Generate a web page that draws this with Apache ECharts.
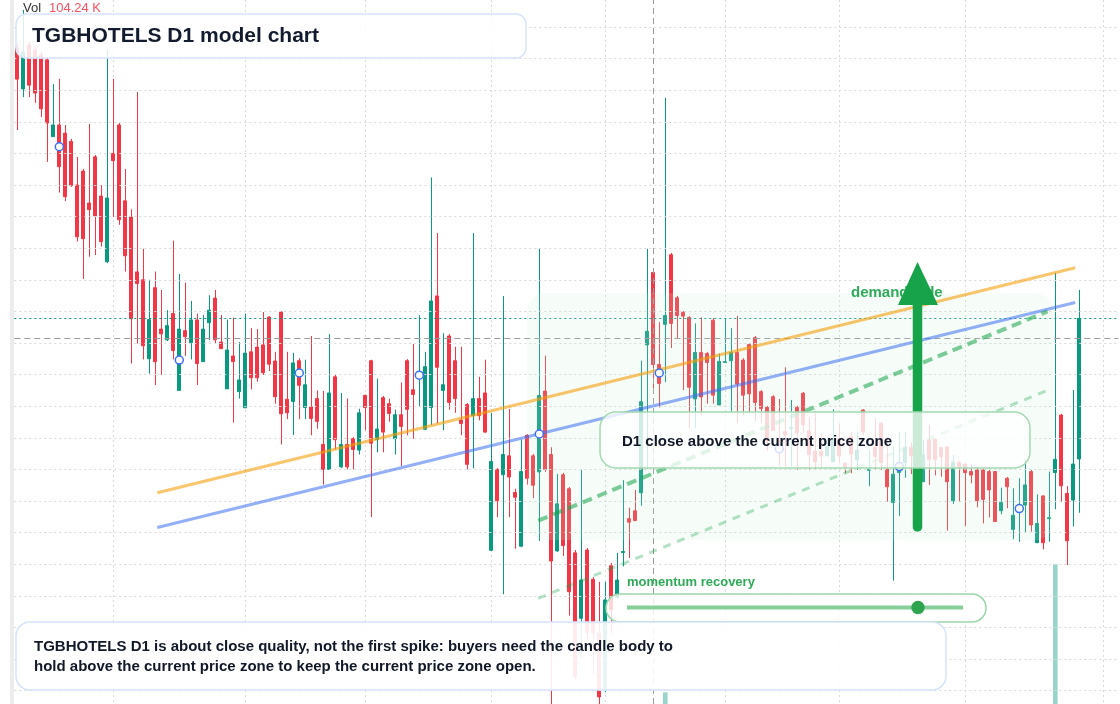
<!DOCTYPE html>
<html><head><meta charset="utf-8">
<script src="https://cdn.jsdelivr.net/npm/echarts@6/dist/echarts.min.js"></script>
<style>html,body{margin:0;padding:0;background:#fff}#c{width:1120px;height:704px}</style>
</head><body><div id="c"></div>
<script>
// ---- data (price in INR, volume in K) ----
const opens = [39.34,38.04,39.43,39.27,39.11,38.96,36.53,36.90,36.64,36.38,
35.00,35.44,34.43,35.89,34.65,32.57,36.00,36.90,34.50,33.99,
32.25,32.00,29.50,31.75,30.44,30.10,30.93,28.50,30.39,30.01,
30.73,29.41,30.64,31.42,30.03,28.55,29.59,28.46,27.95,29.72,
29.87,29.94,30.82,29.43,30.98,28.22,28.15,29.44,27.96,27.98,
28.24,26.79,26.00,28.93,26.08,26.79,26.97,26.61,28.34,29.44,
26.94,28.27,28.08,26.97,27.73,29.44,28.52,28.92,27.27,27.96,
31.49,28.50,30.22,29.44,27.56,28.05,27.70,28.24,28.42,23.44,
26.00,25.83,26.43,25.27,23.57,27.08,26.43,25.92,28.48,26.47,
23.42,25.83,25.39,23.36,21.29,23.45,22.52,20.82,19.02,22.95,
21.94,23.37,24.44,24.69,25.26,29.94,32.23,29.32,30.59,32.79,
31.43,30.97,30.81,28.23,29.70,29.67,30.72,28.04,29.38,29.44,
29.70,29.46,29.95,30.17,28.46,27.96,28.30,26.71,27.20,27.29,
27.96,28.41,27.22,26.58,26.58,26.43,26.24,26.98,26.19,27.03,
26.30,27.88,25.97,26.70,27.46,26.01,24.95,25.90,26.22,26.70,
26.93,25.61,26.93,26.96,26.69,26.71,25.01,26.23,26.17,25.93,
25.98,25.98,25.93,25.93,24.69,25.72,24.10,24.75,24.87,25.93,
23.68,25.16,24.44,25.90,27.72,25.24,25.03,26.33];
const closes = [38.35,39.21,38.16,37.91,37.41,36.96,36.90,35.58,34.63,34.98,
33.36,33.30,34.22,34.02,33.21,34.59,35.77,33.90,32.76,30.77,
31.88,29.91,30.74,29.41,30.29,30.55,29.76,30.44,30.20,30.73,
29.35,30.44,31.04,30.10,29.82,29.78,29.41,28.83,29.68,28.90,
28.90,29.06,29.33,28.30,27.76,27.79,29.37,28.66,28.68,27.61,
27.52,26.00,28.42,26.94,26.79,26.08,26.63,27.79,27.96,26.83,
27.28,27.18,27.77,27.73,27.36,27.90,28.37,29.02,29.25,31.33,
29.23,28.68,28.12,28.24,27.45,26.16,28.24,27.70,27.18,26.25,
25.01,26.47,25.76,25.12,25.93,25.72,25.50,28.34,26.00,23.10,
24.91,23.59,22.13,19.44,22.50,20.85,20.82,18.80,21.87,21.56,
22.50,23.40,24.33,24.38,28.14,30.37,29.32,28.72,30.87,30.62,
30.87,30.85,28.60,29.70,28.29,29.38,28.35,29.42,29.41,29.70,
28.70,28.35,28.39,28.12,27.93,26.90,27.23,26.63,27.09,27.32,
27.15,27.41,26.46,26.24,26.43,26.72,26.98,26.43,26.07,26.49,
26.61,27.19,26.00,26.40,26.22,25.45,25.85,25.95,26.70,26.43,
26.42,26.46,26.32,26.32,26.40,25.61,26.23,26.07,25.90,25.82,
25.01,25.05,25.35,24.35,24.96,25.45,24.55,24.78,25.51,24.24,
24.29,23.68,24.47,26.32,25.48,23.74,26.17,30.78];
const lows = [36.74,37.78,37.78,37.60,37.15,35.73,36.52,34.76,34.49,34.94,
33.21,32.03,32.73,32.78,33.05,32.53,33.99,33.74,32.26,29.35,
29.98,29.48,29.03,28.67,28.99,30.06,29.48,28.48,29.59,29.48,
28.67,29.40,30.09,29.99,29.81,28.54,27.48,28.24,27.94,28.53,
28.78,28.99,29.11,28.08,26.79,27.59,27.09,27.59,27.59,27.08,
27.29,25.52,25.98,26.63,26.04,26.00,26.00,26.47,27.24,24.49,
26.54,26.54,27.51,26.47,26.11,27.08,26.97,27.99,27.25,27.40,
27.46,27.24,27.89,27.79,27.08,26.00,26.03,27.55,27.15,23.42,
24.49,22.05,24.49,23.49,23.54,25.52,25.09,23.74,25.92,18.45,
23.39,23.26,21.37,19.34,20.03,20.60,19.53,18.39,18.95,20.82,
21.93,22.93,23.20,24.37,24.85,26.03,28.55,27.96,28.76,29.84,
30.13,28.51,27.31,27.31,27.71,28.08,28.08,28.04,29.37,27.83,
27.46,27.71,27.77,27.52,27.46,26.59,27.22,26.11,26.09,26.09,
25.99,27.18,25.98,25.98,26.03,26.42,26.23,26.19,25.88,25.88,
25.98,27.09,25.47,25.98,25.98,24.98,22.48,24.53,25.74,25.85,
25.98,25.60,25.51,25.81,25.77,24.06,24.91,24.98,24.21,25.56,
24.80,24.29,24.48,24.34,24.58,24.77,23.79,23.71,24.00,24.03,
23.67,23.47,23.71,24.74,24.98,22.97,24.19,24.63];
const highs = [39.46,40.54,39.53,39.37,39.21,39.05,38.19,38.36,36.90,36.46,
35.89,35.51,36.93,35.95,35.00,39.27,38.36,36.96,35.51,34.23,
37.94,32.98,32.00,32.26,31.68,31.04,33.24,32.18,31.91,31.33,
30.93,30.89,31.51,31.68,30.89,30.74,30.80,30.03,30.93,30.47,
30.44,30.98,30.85,29.72,31.01,29.72,29.69,29.52,29.47,30.22,
28.50,28.48,30.28,28.99,28.42,28.24,27.02,27.92,28.37,29.47,
28.87,28.32,28.24,27.89,28.75,29.49,29.97,30.88,29.72,35.24,
33.48,30.31,30.28,29.88,29.88,28.10,33.48,28.93,29.47,27.79,
26.04,31.49,27.91,25.39,26.94,27.12,26.49,32.98,29.60,26.70,
25.86,25.89,25.44,23.45,25.98,23.51,22.59,22.44,22.44,23.04,
23.36,25.66,24.79,25.35,29.44,32.98,32.31,30.66,37.76,32.85,
31.49,31.01,30.85,30.62,30.81,29.72,30.79,29.67,30.77,30.47,
30.86,29.52,30.00,30.22,28.51,28.01,28.35,28.23,29.23,28.20,
28.01,28.45,27.63,27.78,27.14,27.03,27.90,27.46,26.23,27.16,
27.19,27.90,26.61,27.62,27.50,27.03,26.72,27.19,27.19,26.85,
27.25,26.93,27.41,26.99,26.71,26.74,26.46,26.27,26.20,26.16,
26.07,26.01,25.98,25.95,25.42,25.76,25.40,25.72,26.32,25.98,
25.21,25.19,25.93,32.22,27.75,25.47,28.51,31.68];
const volumes = [48,52,41,39,45,58,36,44,40,33,
37,42,30,35,38,57,44,40,36,47,
52,39,34,41,28,25,37,42,24,27,
33,29,26,31,22,35,38,24,30,27,
25,28,31,26,40,23,34,29,27,30,
22,33,36,31,24,26,21,29,23,41,
25,27,20,24,28,32,30,35,38,56,
48,30,33,29,24,31,45,26,28,52,
34,47,30,26,42,31,28,55,37,58,
39,36,44,50,41,38,35,46,49,33,
30,36,27,25,58,49,57,38,104.24,45,
32,28,36,31,30,24,33,29,22,26,
28,27,30,32,21,25,23,24,26,20,
22,25,24,21,19,20,23,21,18,22,
20,24,19,22,23,26,34,25,21,19,
22,27,21,20,18,29,26,19,23,18,
24,25,21,28,20,19,27,24,26,29,
25,28,22,553,55,44,52,58];
// model markers (every 20th bar)
const markerIdx = [7,27,47,67,87,107,127,147,167];
const markerVal = [36.21,29.46,29.05,28.98,27.12,29.05,26.65,26.09,24.76];
// trend lines: [bar position, price]
const trendUpper = [[23.33,25.26],[176.32,32.38]];
const trendLower = [[23.33,24.16],[176.32,31.28]];
const channelMain = [[86.82,24.38],[171.7,31.00]];
const channelSoft = [[86.82,21.92],[171.8,28.51]];
// price grid levels, month separators (bar index), crosshair, last price
const priceLevels = [19,20,21,22,23,24,25,26,27,28,29,30,31,32,33,34,35,36,37,38,39,40];
const monthStarts = [16,38,58,79,98,118,137,158,181];
const crossBar = 106, crossPrice = 30.16, lastPrice = 30.78;
const priceMin = 18.576, priceMax = 40.854;
const volMin = 63.7, volMax = 700;
const totalSlots = 184;

// trading-day categories
const categories = [];
(function(){ let d = new Date(Date.UTC(2024,5,3)); while (categories.length < totalSlots) { const w = d.getUTCDay(); if (w !== 0 && w !== 6) categories.push(d.toISOString().slice(0,10)); d.setUTCDate(d.getUTCDate()+1); } })();

const candleData = opens.map((o,i)=>[o, closes[i], lows[i], highs[i]]);
const volData = volumes.map((v,i)=>({value:v, itemStyle:{color: closes[i] >= opens[i] ? 'rgba(8,153,129,0.42)' : 'rgba(242,54,69,0.42)'}}));

const UP = '#089981', DOWN = '#f23645';
const FONT = '"Liberation Sans", Arial, sans-serif';
const chart = echarts.init(document.getElementById('c'), null, {renderer:'canvas'});
const hidden = {show:false};
const ml = (data) => ({symbol:['none','none'], silent:true, animation:false, label:{show:false}, data});

chart.setOption({
  animation:false,
  backgroundColor:'#fff',
  grid:[{left:14.3, top:0, width:1104, height:704},
        {left:14.3, top:522.2, width:1104, height:181.8}],
  xAxis:[
    {type:'category', gridIndex:0, data:categories, boundaryGap:true, axisLine:hidden, axisTick:hidden, axisLabel:hidden, splitLine:hidden},
    {type:'value', gridIndex:0, min:-0.5, max:totalSlots-0.5, show:false},
    {type:'category', gridIndex:1, data:categories, boundaryGap:true, show:false}
  ],
  yAxis:[
    {type:'value', gridIndex:0, min:priceMin, max:priceMax, scale:true, axisLine:hidden, axisTick:hidden, axisLabel:hidden, splitLine:hidden},
    {type:'value', gridIndex:1, min:volMin, max:volMax, scale:true, show:false, splitLine:hidden}
  ],
  series:[
    {type:'line', name:'grid', xAxisIndex:0, yAxisIndex:0, data:[], z:0, silent:true,
     markLine:ml(priceLevels.map(v=>({yAxis:v, lineStyle:{color:'#d9d9d9', width:1, type:[2,3]}})))},
    {type:'bar', name:'Volume', xAxisIndex:2, yAxisIndex:1, data:volData, barWidth:4.6, z:1, silent:true, clip:true},
    {type:'candlestick', name:'TGBHOTELS', xAxisIndex:0, yAxisIndex:0, data:candleData, barWidth:3.6, z:2, silent:true,
     itemStyle:{color:UP, color0:DOWN, borderColor:UP, borderColor0:DOWN, borderWidth:1}},
    {type:'line', name:'crosshair', xAxisIndex:0, yAxisIndex:0, data:[], z:3, silent:true,
     markLine:ml([
       {xAxis:crossBar, lineStyle:{color:'#9a9a9a', width:1, type:[6,4]}},
       {yAxis:crossPrice, lineStyle:{color:'#9a9a9a', width:1, type:[6,4]}},
       {yAxis:lastPrice, lineStyle:{color:UP, width:1, type:[2,3]}}
     ])},
    {type:'line', xAxisIndex:1, yAxisIndex:0, data:trendUpper, symbol:'none', z:6, silent:true,
     lineStyle:{color:'rgba(245,158,11,0.6)', width:3}},
    {type:'line', xAxisIndex:1, yAxisIndex:0, data:trendLower, symbol:'none', z:6, silent:true,
     lineStyle:{color:'rgba(59,110,240,0.55)', width:3}},
    {type:'line', xAxisIndex:1, yAxisIndex:0, data:channelMain, symbol:'none', z:6, silent:true,
     lineStyle:{color:'rgba(22,163,74,0.55)', width:4, type:[10,6]}},
    {type:'line', xAxisIndex:1, yAxisIndex:0, data:channelSoft, symbol:'none', z:6, silent:true,
     lineStyle:{color:'rgba(22,163,74,0.32)', width:3, type:[8,7]}},
    {type:'scatter', xAxisIndex:0, yAxisIndex:0, data:markerIdx.map((k,i)=>[k, markerVal[i]]), symbol:'circle', symbolSize:8, z:7, silent:true,
     itemStyle:{color:'#ffffff', borderColor:'#3b6ff5', borderWidth:1.5, opacity:1}}
  ]
});

// month separators positioned through the category scale
const sepLines = monthStarts.map(i => {
  const x = Math.round(chart.convertToPixel({xAxisIndex:0}, i)) + 0.5;
  return {type:'line', silent:true, z:0, zlevel:0, shape:{x1:x, y1:0, x2:x, y2:704}, style:{stroke:'#d9d9d9', lineWidth:1, lineDash:[2,3]}};
});

chart.setOption({
  graphic:[
    ...sepLines,
    {type:'rect', silent:true, z:1, shape:{x:10, y:0, width:4, height:704}, style:{fill:'#ececec'}},
    {type:'rect', silent:true, z:5, shape:{x:527, y:293, width:526, height:247, r:18}, style:{fill:'rgba(200,240,212,0.16)'}},
    {type:'text', silent:true, z:15, style:{text:'demand side', x:851, y:293, font:'bold 15px '+FONT, fill:'#2fab58', verticalAlign:'middle'}},
    {type:'line', silent:true, z:20, shape:{x1:917.5, y1:527, x2:917.5, y2:300}, style:{stroke:'#16a34a', lineWidth:9.5, lineCap:'round'}},
    {type:'polygon', silent:true, z:20, shape:{points:[[898,305],[938,305],[917.5,262]]}, style:{fill:'#16a34a'}},
    {type:'rect', silent:true, z:30, shape:{x:600, y:412, width:430, height:56, r:16}, style:{fill:'rgba(255,255,255,0.78)', stroke:'#a3d9b1', lineWidth:1.5}},
    {type:'text', silent:true, z:31, style:{text:'D1 close above the current price zone', x:622, y:441.5, font:'bold 15px '+FONT, fill:'#111827', verticalAlign:'middle'}},
    {type:'text', silent:true, z:31, style:{text:'momentum recovery', x:627, y:582, font:'bold 13px '+FONT, fill:'#2fab58', verticalAlign:'middle'}},
    {type:'rect', silent:true, z:30, shape:{x:606, y:594, width:380, height:28, r:14}, style:{fill:'rgba(255,255,255,0.8)', stroke:'#9bd6ab', lineWidth:1.5}},
    {type:'line', silent:true, z:31, shape:{x1:627, y1:607.5, x2:963, y2:607.5}, style:{stroke:'#86cf9b', lineWidth:4}},
    {type:'circle', silent:true, z:32, shape:{cx:918, cy:607.5, r:6.7}, style:{fill:'#2ea44f'}},
    {type:'rect', silent:true, z:30, shape:{x:16, y:622, width:930, height:68, r:14}, style:{fill:'rgba(255,255,255,0.9)', stroke:'#d6e4fb', lineWidth:1.5}},
    {type:'text', silent:true, z:31, style:{text:'TGBHOTELS D1 is about close quality, not the first spike: buyers need the candle body to', x:34, y:647, font:'bold 15px '+FONT, fill:'#111827', verticalAlign:'middle'}},
    {type:'text', silent:true, z:31, style:{text:'hold above the current price zone to keep the current price zone open.', x:34, y:667, font:'bold 15px '+FONT, fill:'#111827', verticalAlign:'middle'}},
    {type:'rect', silent:true, z:30, shape:{x:16, y:14, width:510, height:44, r:10}, style:{fill:'rgba(255,255,255,0.85)', stroke:'#d6e4fb', lineWidth:1.5}},
    {type:'text', silent:true, z:31, style:{text:'TGBHOTELS D1 model chart', x:32, y:36, font:'bold 21px '+FONT, fill:'#131c2e', verticalAlign:'middle'}},
    {type:'text', silent:true, z:31, style:{text:'Vol', x:23, y:8.5, font:'13px '+FONT, fill:'#333333', verticalAlign:'middle'}},
    {type:'text', silent:true, z:31, style:{text:volumes[108].toFixed(2)+' K', x:49, y:8.5, font:'13px '+FONT, fill:'#f7525f', verticalAlign:'middle'}}
  ]
});
</script>
</body></html>
